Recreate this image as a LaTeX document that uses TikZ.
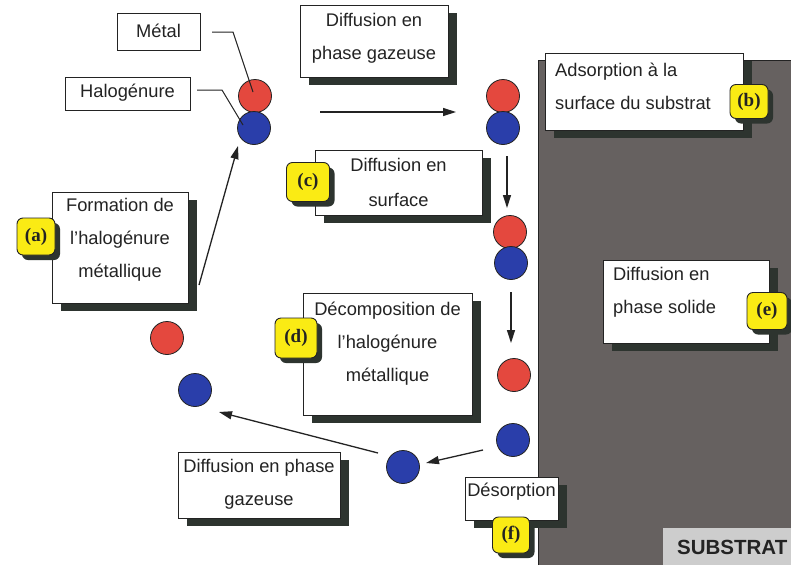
\documentclass[tikz,border=0pt]{standalone}
\usepackage{fontspec}
\setmainfont{Liberation Sans}
\newfontfamily\badgefont{Liberation Serif}
\usetikzlibrary{arrows.meta,shadows}
\definecolor{ink}{RGB}{35,35,35}
\definecolor{shad}{RGB}{45,52,47}
\definecolor{subst}{RGB}{102,97,96}
\definecolor{yel}{RGB}{250,235,20}
\definecolor{redc}{RGB}{228,72,62}
\definecolor{bluec}{RGB}{42,62,170}
\definecolor{lbl}{RGB}{205,205,205}
\tikzset{
 plainbox/.style={draw=ink, line width=0.9pt, fill=white, inner sep=0pt},
 shbox/.style={plainbox, drop shadow={shadow xshift=9pt, shadow yshift=-8pt, fill=shad, opacity=1}},
 txt/.style={text=ink, font=\fontsize{18.3}{33}\selectfont, align=center, inner sep=0pt},
 badge/.style={draw=ink, line width=0.9pt, fill=yel, rounded corners=6pt, inner sep=0pt,
   font=\badgefont\bfseries\fontsize{19}{19}\selectfont, text=ink,
   drop shadow={shadow xshift=5pt, shadow yshift=-5pt, fill=shad, opacity=1}},
 ball/.style={circle, draw=ink, line width=0.8pt, minimum size=33pt, inner sep=0pt},
 arr/.style={draw=ink, line width=1.3pt, -{Triangle[length=13pt,width=8pt]}},
 lead/.style={draw=ink, line width=1pt},
}
\begin{document}
\begin{tikzpicture}[x=1pt,y=-1pt]
\useasboundingbox (0,0) rectangle (791,565);
\fill[white] (0,0) rectangle (791,565);
% substrate
\fill[subst] (538,60) rectangle (791,565);
\draw[ink, line width=1pt] (538,565) -- (538,60) -- (791,60);
\node[fill=lbl, minimum width=128pt, minimum height=37pt, inner sep=0pt] (sublbl) at (727,546.5) {};
\node[text=ink, font=\bfseries\fontsize{20.5}{20.5}\selectfont, anchor=west, inner sep=0pt] (subtxt) at (677,547) {SUBSTRAT};

% boxes
\node[plainbox, minimum width=83pt, minimum height=37pt] (metal) at (158.5,31.5) {};
\node[txt] (metalt) at (158.5,31) {Métal};
\node[plainbox, minimum width=125pt, minimum height=33pt] (halo) at (127.5,93.5) {};
\node[txt] (halot) at (127.5,93) {Halogénure};

\node[shbox, minimum width=136pt, minimum height=111pt] (form) at (120,247.5) {};
\node[txt] (formt) at (120,240) {Formation de\\l'halogénure\\métallique};

\node[shbox, minimum width=148pt, minimum height=72pt] (gaz1) at (374,41) {};
\node[txt] (gaz1t) at (374,38) {Diffusion en\\phase gazeuse};

\node[shbox, minimum width=198pt, minimum height=77pt] (ads) at (644,91.5) {};
\node[txt, align=left, anchor=west] (adst) at (555,86) {Adsorption à la\\surface du substrat};

\node[shbox, minimum width=167pt, minimum height=65pt] (surf) at (398.5,182.5) {};
\node[txt, font=\fontsize{18.3}{35}\selectfont] (surft) at (398.5,182.5) {Diffusion en\\surface};

\node[shbox, minimum width=169pt, minimum height=122pt] (decomp) at (387.5,354) {};
\node[txt] (decompt) at (387.5,343.5) {Décomposition de\\l'halogénure\\métallique};

\node[shbox, minimum width=166pt, minimum height=83pt] (solide) at (686,301.5) {};
\node[txt, align=left, anchor=west] (solidet) at (613,292.5) {Diffusion en\\phase solide};

\node[shbox, minimum width=162pt, minimum height=66pt] (gaz2) at (259,485) {};
\node[txt] (gaz2t) at (259,484.5) {Diffusion en phase\\gazeuse};

\node[shbox, minimum width=93pt, minimum height=43pt] (desorp) at (511.5,498.5) {};
\node[txt] (desorpt) at (511.5,492) {Désorption};

% badges
\node[badge, minimum width=38pt, minimum height=37pt] (ba) at (36,236.5) {(a)};
\node[badge, minimum width=38pt, minimum height=34pt] (bb) at (749,101.5) {(b)};
\node[badge, minimum width=43pt, minimum height=39pt] (bc) at (308,182) {(c)};
\node[badge, minimum width=42pt, minimum height=40pt] (bd) at (296,338) {(d)};
\node[badge, minimum width=40pt, minimum height=37pt] (be) at (767,311) {(e)};
\node[badge, minimum width=37pt, minimum height=36pt] (bf) at (511,535) {(f)};

% balls
\node[ball, fill=redc] (r1) at (255,96) {};
\node[ball, fill=bluec] (b1) at (254,128) {};
\node[ball, fill=redc] (r2) at (503,96) {};
\node[ball, fill=bluec] (b2) at (503,128) {};
\node[ball, fill=redc] (r3) at (510,232) {};
\node[ball, fill=bluec] (b3) at (511,263) {};
\node[ball, fill=redc] (r4) at (514,375) {};
\node[ball, fill=bluec] (b4) at (513,440) {};
\node[ball, fill=bluec] (b5) at (403,467) {};
\node[ball, fill=redc] (r6) at (167,338) {};
\node[ball, fill=bluec] (b6) at (195,390) {};

% leader lines
\coordinate (m1) at (212,32);
\coordinate (m2) at (233,32);
\coordinate (m3) at (253,92);
\coordinate (h1) at (197,90);
\coordinate (h2) at (222,90);
\coordinate (h3) at (243,125);
\draw[lead] (m1) -- (m2) -- (m3);
\draw[lead] (h1) -- (h2) -- (h3);

% arrows
\coordinate (a1s) at (199,285);
\coordinate (a1e) at (238,146);
\draw[arr] (a1s) -- (a1e);
\coordinate (a2s) at (320,112);
\coordinate (a2e) at (456,112);
\draw[arr] (a2s) -- (a2e);
\coordinate (a3s) at (507,156);
\coordinate (a3e) at (507,208);
\draw[arr] (a3s) -- (a3e);
\coordinate (a4s) at (511,292);
\coordinate (a4e) at (511,343);
\draw[arr] (a4s) -- (a4e);
\coordinate (a5s) at (483,450);
\coordinate (a5e) at (426,463);
\draw[arr] (a5s) -- (a5e);
\coordinate (a6s) at (378,453);
\coordinate (a6e) at (219,412);
\draw[arr] (a6s) -- (a6e);
\end{tikzpicture}
\end{document}
